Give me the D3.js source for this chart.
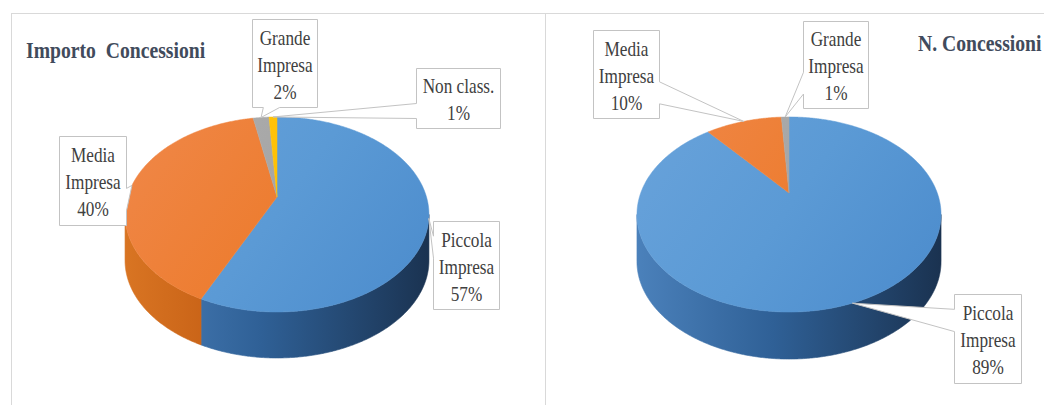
<!DOCTYPE html>
<html>
<head>
<meta charset="utf-8">
<script src="https://cdn.jsdelivr.net/npm/d3@7"></script>
<style>
  html, body { margin: 0; padding: 0; background: #fff; overflow: hidden; }
  svg { display: block; }
  svg text { font-family: "Liberation Serif", "DejaVu Serif", serif; }
</style>
</head>
<body>
<svg id="chart" width="1044" height="405"></svg>
<script>
// Share of concession amount by company size (%)
const importoCategories = ["Piccola Impresa", "Media Impresa", "Grande Impresa", "Non class."];
const importoValues = [57, 40, 2, 1];

// Share of number of concessions by company size (%)
const numeroCategories = ["Piccola Impresa", "Media Impresa", "Grande Impresa"];
const numeroValues = [89, 10, 1];

const chartTitles = ["Importo  Concessioni", "N. Concessioni"];

// ---- styling ----
const colorKey = {
  "Piccola Impresa": "blue",
  "Media Impresa": "orange",
  "Grande Impresa": "gray",
  "Non class.": "yellow"
};
const shades = {
  blue:   { top: ["#69a3db", "#5b9ad5", "#4b8bcc"], side: ["#4b81bb", "#2f6096", "#1a3250"] },
  orange: { top: ["#f0884a", "#ed7d31", "#e97122"], side: ["#d97523", "#bf5810", "#7a3508"] },
  gray:   { top: ["#b0b0b0", "#a5a5a5", "#9a9a9a"], side: ["#9a9a9a", "#7f7f7f", "#5a5a5a"] },
  yellow: { top: ["#ffc61a", "#ffc000", "#f0b400"], side: ["#e6ad00", "#c79600", "#8a6800"] }
};
const SQUEEZE = 0.82;   // condensed lettering
const LINE_H = 27;

// geometry of each 3-D pie (perspective disc) and its callout boxes
const layouts = [
  {
    cx: 277, cy: 197, a: 149.5, q: 94.4, g: 0.179, depth: 46,
    title: [26, 58],
    boxes: {
      "Piccola Impresa": [433, 221, 66, 88],
      "Media Impresa":   [59, 136, 67, 89],
      "Grande Impresa":  [252, 19, 65, 88],
      "Non class.":      [416, 68, 84, 60]
    }
  },
  {
    cx: 789, cy: 193, a: 148.3, q: 92.8, g: 0.2205, depth: 47,
    title: [918, 51],
    boxes: {
      "Piccola Impresa": [954, 294, 67, 89],
      "Media Impresa":   [593, 30, 66, 88],
      "Grande Impresa":  [803, 21, 65, 87]
    }
  }
];

const svg = d3.select("#chart");
const defs = svg.append("defs");

// panel frames
const frame = svg.append("g").attr("stroke", "#d9d9d9").attr("stroke-width", 1).attr("fill", "none");
frame.append("line").attr("x1", 11).attr("x2", 1044).attr("y1", 13.5).attr("y2", 13.5);
frame.append("line").attr("x1", 11.5).attr("x2", 11.5).attr("y1", 13).attr("y2", 405);
frame.append("line").attr("x1", 545.5).attr("x2", 545.5).attr("y1", 13).attr("y2", 405);

// project a point of the disc (angle clockwise from the back, radius fraction r)
function project(L, theta, r = 1) {
  const u = r * Math.sin(theta), v = r * Math.cos(theta);
  const w = 1 + L.g * v;
  return [L.cx + L.a * u / w, L.cy - L.q * v / w];
}

function arcPoints(L, t0, t1) {
  const n = Math.max(2, Math.ceil(Math.abs(t1 - t0) / (Math.PI / 360)));
  return d3.range(n + 1).map(i => project(L, t0 + (t1 - t0) * i / n));
}

// wedge-rectangle callout outline pointing at (tx, ty)
function calloutPath(l, t, w, h, tx, ty) {
  const r = l + w, b = t + h, hc = l + w / 2, vc = t + h / 2;
  const dx = tx - hc, dy = ty - vc;
  const inside = tx >= l && tx <= r && ty >= t && ty <= b;
  const dq = dx * h / w;
  const x1 = l + w * (dx > 0 ? 7 : 2) / 12, x2 = l + w * (dx > 0 ? 10 : 5) / 12;
  const y1 = t + h * (dy > 0 ? 7 : 2) / 12, y2 = t + h * (dy > 0 ? 10 : 5) / 12;
  let side = null;
  if (!inside) {
    if (Math.abs(dy) > Math.abs(dq)) side = dy < 0 ? "top" : "bottom";
    else side = dx < 0 ? "left" : "right";
  }
  const p = d3.path();
  p.moveTo(l, t);
  if (side === "top") { p.lineTo(x1, t); p.lineTo(tx, ty); p.lineTo(x2, t); }
  p.lineTo(r, t);
  if (side === "right") { p.lineTo(r, y1); p.lineTo(tx, ty); p.lineTo(r, y2); }
  p.lineTo(r, b);
  if (side === "bottom") { p.lineTo(x2, b); p.lineTo(tx, ty); p.lineTo(x1, b); }
  p.lineTo(l, b);
  if (side === "left") { p.lineTo(l, y2); p.lineTo(tx, ty); p.lineTo(l, y1); }
  p.closePath();
  return p.toString();
}

function labelLines(name, value) {
  const words = name.endsWith(" Impresa") ? name.split(" ") : [name];
  return words.concat([value + "%"]);
}

function drawPie(idx, categories, values) {
  const L = layouts[idx];
  const g = svg.append("g").attr("class", "pie-" + idx);

  // gradients for this pie
  Object.entries(shades).forEach(([k, s]) => {
    const side = defs.append("linearGradient").attr("id", `side-${idx}-${k}`)
      .attr("gradientUnits", "userSpaceOnUse")
      .attr("x1", L.cx - L.a * 1.03).attr("x2", L.cx + L.a * 1.03).attr("y1", 0).attr("y2", 0);
    side.append("stop").attr("offset", "0%").attr("stop-color", s.side[0]);
    side.append("stop").attr("offset", "45%").attr("stop-color", s.side[1]);
    side.append("stop").attr("offset", "100%").attr("stop-color", s.side[2]);
    const top = defs.append("linearGradient").attr("id", `top-${idx}-${k}`)
      .attr("gradientUnits", "userSpaceOnUse")
      .attr("x1", L.cx - L.a).attr("y1", L.cy - L.q)
      .attr("x2", L.cx + L.a).attr("y2", L.cy + L.q * 1.3);
    top.append("stop").attr("offset", "0%").attr("stop-color", s.top[0]);
    top.append("stop").attr("offset", "50%").attr("stop-color", s.top[1]);
    top.append("stop").attr("offset", "100%").attr("stop-color", s.top[2]);
  });

  const arcs = d3.pie().sort(null).startAngle(0).endAngle(2 * Math.PI)(values)
    .map((d, i) => Object.assign(d, { name: categories[i] }));

  // visible front band of the side wall lies between the two silhouette points
  const tR = Math.acos(-L.g), tL = 2 * Math.PI - Math.acos(-L.g);

  const sides = g.append("g");
  arcs.forEach(d => {
    const s = Math.max(d.startAngle, tR), e = Math.min(d.endAngle, tL);
    if (e <= s) return;
    const topPts = arcPoints(L, s, e);
    const botPts = topPts.map(([x, y]) => [x, y + L.depth]).reverse();
    const k = colorKey[d.name];
    sides.append("path")
      .attr("d", d3.line()(topPts.concat(botPts)) + "Z")
      .attr("fill", `url(#side-${idx}-${k})`)
      .attr("stroke", `url(#side-${idx}-${k})`).attr("stroke-width", 0.6);
  });

  const tops = g.append("g");
  arcs.forEach(d => {
    const pts = [[L.cx, L.cy]].concat(arcPoints(L, d.startAngle, d.endAngle));
    const k = colorKey[d.name];
    tops.append("path")
      .attr("d", d3.line()(pts) + "Z")
      .attr("fill", `url(#top-${idx}-${k})`)
      .attr("stroke", `url(#top-${idx}-${k})`).attr("stroke-width", 0.5);
  });

  // callouts
  const labels = g.append("g");
  arcs.forEach(d => {
    const box = L.boxes[d.name];
    if (!box) return;
    const [bx, by, bw, bh] = box;
    const [tx, ty] = project(L, (d.startAngle + d.endAngle) / 2, 1);
    labels.append("path")
      .attr("d", calloutPath(bx + 0.5, by + 0.5, bw, bh, tx, ty))
      .attr("fill", "#fff").attr("stroke", "#c3c3c3").attr("stroke-width", 1);
    const lines = labelLines(d.name, d.value);
    const n = lines.length;
    const tg = labels.append("g")
      .attr("transform", `translate(${bx + bw / 2 + 0.5},0) scale(${SQUEEZE},1)`);
    lines.forEach((txt, i) => {
      tg.append("text")
        .attr("x", 0)
        .attr("y", by + bh / 2 + 9 + (i - (n - 1) / 2) * LINE_H)
        .attr("text-anchor", "middle")
        .attr("font-size", 21)
        .attr("fill", "#404040")
        .text(txt);
    });
  });

  // title
  svg.append("g")
    .attr("transform", `translate(${L.title[0]},${L.title[1]}) scale(${SQUEEZE},1)`)
    .append("text")
    .attr("x", 0).attr("y", 0)
    .attr("font-size", 24).attr("font-weight", "bold")
    .attr("fill", "#414b5c")
    .style("white-space", "pre")
    .text(chartTitles[idx]);
}

drawPie(0, importoCategories, importoValues);
drawPie(1, numeroCategories, numeroValues);
</script>
</body>
</html>
